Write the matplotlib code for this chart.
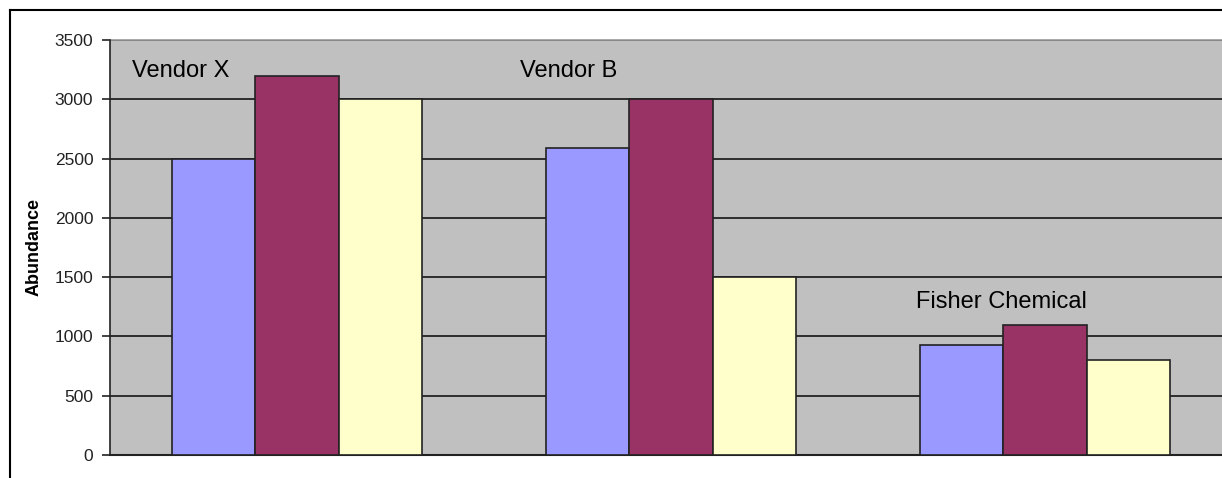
import matplotlib.pyplot as plt
import numpy as np
from matplotlib.lines import Line2D

plt.rcParams['font.family'] = ['Liberation Sans Narrow', 'Liberation Sans', 'DejaVu Sans']

vendors = ["Vendor X", "Vendor B", "Fisher Chemical"]
series_a = [2500, 2590, 930]
series_b = [3200, 3000, 1100]
series_c = [3000, 1500, 800]
yticks = [0, 500, 1000, 1500, 2000, 2500, 3000, 3500]

colors = ["#9999FF", "#993366", "#FFFFCC"]

fig = plt.figure(figsize=(12.22, 4.78), dpi=100)
# plot area runs past the right edge like the original
ax = fig.add_axes([110 / 1222, 23 / 478, 1122 / 1222, 415 / 478])
ax.set_facecolor("#C0C0C0")

x = np.arange(len(vendors))
w = 0.222
for i, (vals, c) in enumerate(zip([series_a, series_b, series_c], colors)):
    ax.bar(x + (i - 1) * w, vals, width=w, color=c, edgecolor="#222222",
           linewidth=1.2, zorder=3)

ax.set_xlim(-0.5, 2.5)
ax.set_ylim(0, 3500)
ax.set_yticks(yticks)
ax.set_xticks([])
ax.yaxis.grid(True, color="#222222", linewidth=1.3, zorder=1)
ax.set_axisbelow(True)
ax.tick_params(axis="y", direction="out", length=6, width=1.2, labelsize=12.5,
               colors="#222222", pad=6)

for s in ["top", "right"]:
    ax.spines[s].set_visible(False)
ax.spines["left"].set_linewidth(1.2)
ax.spines["left"].set_color("#222222")
ax.spines["bottom"].set_linewidth(1.5)
ax.spines["bottom"].set_color("#222222")
ax.axhline(3500, color="#999999", linewidth=1.2, clip_on=False)

ax.set_ylabel("Abundance", fontsize=13, fontweight="bold", labelpad=9)

# group labels
ax.text(-0.44, 3240, "Vendor X", fontsize=17, va="center", ha="left")
ax.text(0.595, 3240, "Vendor B", fontsize=17, va="center", ha="left")
ax.text(1.655, 1290, "Fisher Chemical", fontsize=17, va="center", ha="left")

# outer chart frame
fig.add_artist(Line2D([10 / 1222, 10 / 1222], [0, 1 - 10 / 478],
                      transform=fig.transFigure, color="black", linewidth=1.5))
fig.add_artist(Line2D([10 / 1222, 1], [1 - 10 / 478, 1 - 10 / 478],
                      transform=fig.transFigure, color="black", linewidth=1.5))

fig.savefig("out.png", dpi=100)
